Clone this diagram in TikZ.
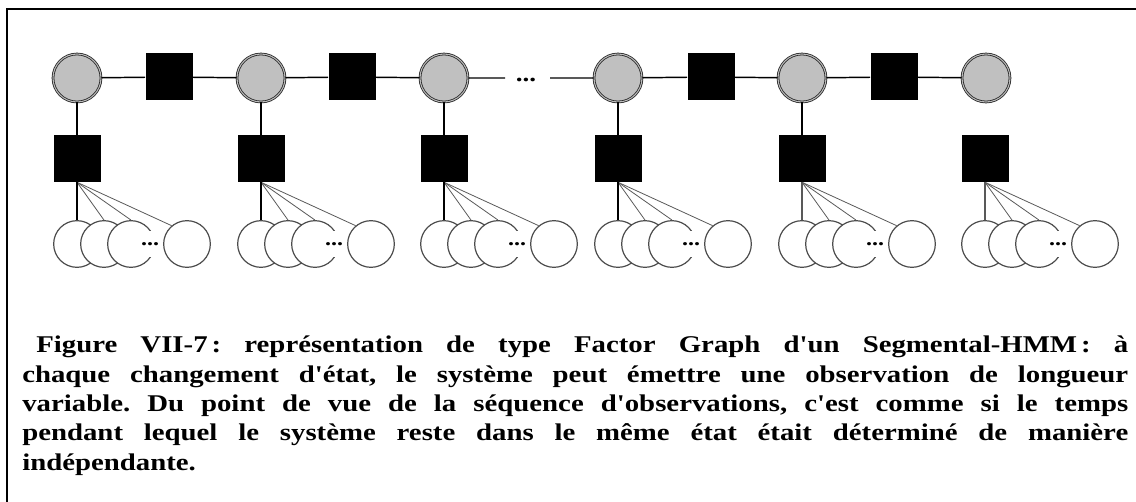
\documentclass[tikz,border=0pt]{standalone}
\usepackage{fontspec}
\newfontfamily\capfont[FakeStretch=1.2,Ligatures=TeXOff]{Liberation Serif}
\definecolor{stategray}{HTML}{C0C0C0}
\begin{document}
\begin{tikzpicture}[x=0.75pt,y=-0.75pt,
  state/.style={circle,fill=stategray,draw=black!85,line width=0.6pt,double=gray!55,double distance=0.8pt,minimum size=36pt,inner sep=0pt},
  factor/.style={rectangle,fill=black,minimum size=35.25pt,inner sep=0pt},
  obs/.style={circle,fill=white,draw=black!70,line width=0.9pt,minimum size=35pt,inner sep=0pt},
  dotsnode/.style={fill=white,inner xsep=1pt,inner ysep=0pt,minimum height=19pt,font=\capfont\bfseries\fontsize{15}{15}\selectfont},
  chain/.style={line width=1.1pt,black},
  obsline/.style={line width=0.6pt,black!65},
  frame/.style={line width=1.6pt,black}
]
\path[use as bounding box] (0,0) rectangle (1136,502);
\draw[frame] (7,503) -- (7,9) -- (1137,9);

% top chain
\node[state] (s1) at (77,78) {};
\node[state] (s2) at (261,78) {};
\node[state] (s3) at (444,78) {};
\node[state] (s4) at (618,78) {};
\node[state] (s5) at (802,78) {};
\node[state] (s6) at (986,78) {};
\node[factor] (t1) at (169,77) {};
\node[factor] (t2) at (352,77) {};
\node[factor] (t3) at (711,77) {};
\node[factor] (t4) at (894,77) {};
\node[font=\capfont\bfseries\fontsize{17}{17}\selectfont,inner sep=0pt] (tdots) at (526,80) {...};
\coordinate (gapL) at (505,78);
\coordinate (gapR) at (550,78);
\draw[chain] (s1) -- (t1) -- (s2) -- (t2) -- (s3) -- (gapL);
\draw[chain] (gapR) -- (s4) -- (t3) -- (s5) -- (t4) -- (s6);

% emission groups
\foreach \X/\i in {77/1,261/2,444/3,618/4,802/5,985/6} {
  \node[factor] (e\i) at (\X,158.5) {};
  \node[obs] (a\i) at (\X,244) {};
  \node[obs] (b\i) at (\X+27,244) {};
  \node[obs] (c\i) at (\X+54,244) {};
  \node[dotsnode] (d\i) at (\X+73,244) {...};
  \node[obs] (f\i) at (\X+110,244) {};
  \draw[obsline] (e\i.south) -- (b\i.north);
  \draw[obsline] (e\i.south) -- (c\i.north);
  \draw[obsline] (e\i.south) -- (f\i.130);
}
\foreach \i in {1,...,5} { \draw[chain] (s\i) -- (e\i); }
\foreach \i in {1,...,4} { \draw[chain] (e\i) -- (a\i); }
\foreach \i in {5,6} { \draw[obsline,line width=0.8pt] (e\i) -- (a\i); }

% caption
\node[anchor=north west,text width=829.5pt,align=justify,inner sep=0pt,
      font=\capfont\bfseries\fontsize{18}{22}\selectfont] (cap) at (22,336)
{\baselineskip=22pt\frenchspacing\hspace*{10.5pt}Figure VII-7\,: représentation de type Factor Graph d'un Segmental-HMM\,: à\linebreak
chaque changement d'état, le système peut émettre une observation de longueur\linebreak
variable. Du point de vue de la séquence d'observations, c'est comme si le temps\linebreak
pendant lequel le système reste dans le même état était déterminé de manière\linebreak
indépendante.\par};
\end{tikzpicture}
\end{document}
